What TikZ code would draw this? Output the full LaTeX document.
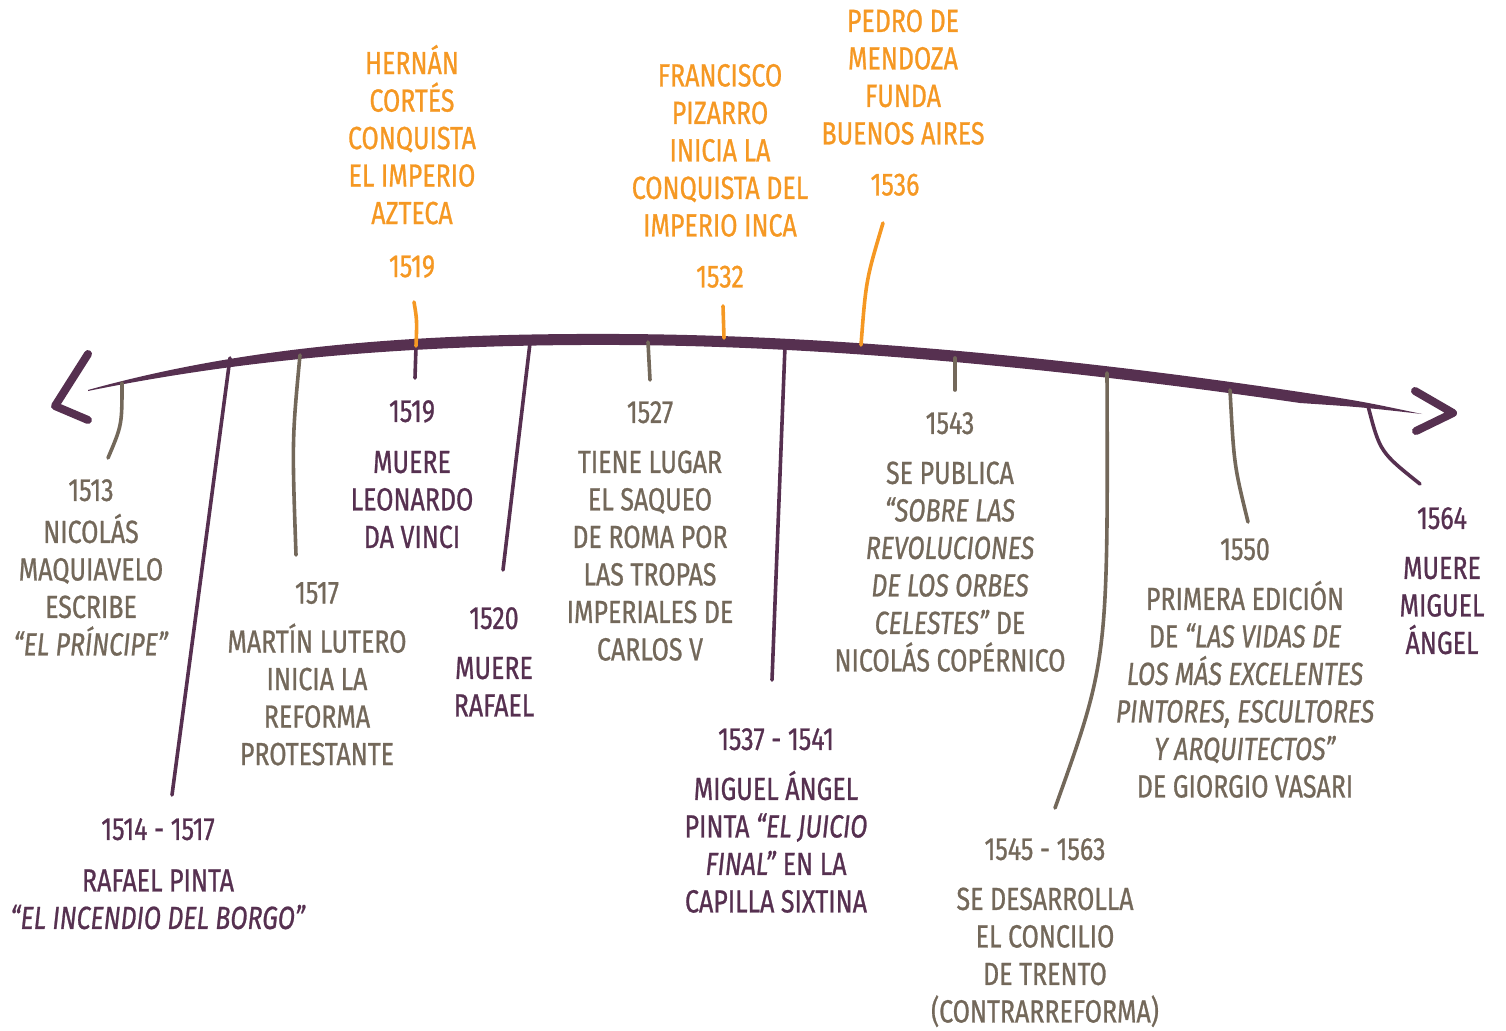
\documentclass[tikz,border=0pt]{standalone}
\usepackage{fontspec}
\setmainfont{Fira Sans}[FakeStretch=0.78, FakeBold=0.8]
\usepackage{tikz}
\usetikzlibrary{calc}

\definecolor{plum}{HTML}{563050}
\definecolor{taupe}{HTML}{73685A}
\definecolor{amber}{HTML}{F59823}

\begin{document}
\begin{tikzpicture}[x=1pt, y=-1pt,
  evt/.style={inner sep=0pt, align=center, font=\fontsize{32}{37.5}\selectfont},
  below evt/.style={evt, anchor=north},
  above evt/.style={evt, anchor=south},
  tick/.style={line width=3.6pt, line cap=round}]

\useasboundingbox (0,0) rectangle (1506,1030);

% main time axis (tapered stroke)
\fill[plum] (88,390) .. controls (250,345) and (420,333) .. (620,334)
  .. controls (850,335) and (1100,362) .. (1300,392)
  .. controls (1360,401) .. (1422,414)
  .. controls (1360,407) .. (1300,403)
  .. controls (1100,374) and (850,346) .. (620,345)
  .. controls (420,344) and (250,358) .. (88,391) -- cycle;
\draw[plum, line width=8pt, line cap=round, line join=round] (88,354) -- (55,406) -- (88,420);
\draw[plum, line width=8pt, line cap=round, line join=round] (1415,391) -- (1453,413) -- (1416,431);

% points on the axis
\coordinate (a1513) at (122,383);
\coordinate (a1514) at (230,358);
\coordinate (a1517) at (300,355);
\coordinate (a1519) at (416,346);
\coordinate (a1520) at (530,343);
\coordinate (a1527) at (648,342);
\coordinate (a1532) at (724,338);
\coordinate (a1536) at (861,345);
\coordinate (a1537) at (785,346);
\coordinate (a1543) at (955,358);
\coordinate (a1545) at (1107,373);
\coordinate (a1550) at (1230,390);
\coordinate (a1564) at (1368,406);

% free ends of the ticks
\coordinate (e1513) at (108,458);
\coordinate (e1514) at (172,795);
\coordinate (e1517) at (296,555);
\coordinate (e1519) at (415,378);
\coordinate (u1519) at (414,302);
\coordinate (e1520) at (503,570);
\coordinate (e1527) at (650,380);
\coordinate (u1532) at (723,306);
\coordinate (u1536) at (883,223);
\coordinate (e1537) at (772,680);
\coordinate (e1543) at (955,390);
\coordinate (e1545) at (1055,808);
\coordinate (e1550) at (1248,522);
\coordinate (e1564) at (1420,484);

\draw[tick, taupe] (a1513) .. controls (122,425) .. (e1513);
\draw[tick, plum] (a1514) -- (e1514);
\draw[tick, taupe] (a1517) .. controls (292,440) .. (e1517);
\draw[tick, plum] (a1519) -- (e1519);
\draw[tick, amber] (a1519) .. controls (417,320) .. (u1519);
\draw[tick, plum] (a1520) -- (e1520);
\draw[tick, taupe] (a1527) -- (e1527);
\draw[tick, amber] (a1532) -- (u1532);
\draw[tick, amber] (a1536) .. controls (866,280) .. (u1536);
\draw[tick, plum] (a1537) -- (e1537);
\draw[tick, taupe] (a1543) -- (e1543);
\draw[tick, taupe] (a1545) .. controls (1108,660) .. (e1545);
\draw[tick, taupe] (a1550) .. controls (1234,465) .. (e1550);
\draw[tick, plum] (a1564) .. controls (1380,452) .. (e1564);

% events below the axis
\node[below evt, taupe] (t1513) at (91,479) {1513\\[4.5pt] NICOLÁS\\ MAQUIAVELO\\ ESCRIBE\\ \textit{“EL PRÍNCIPE”}};
\node[below evt, plum] (t1514) at (158,818) {1514 - 1517\\[14pt] RAFAEL PINTA\\ \textit{“EL INCENDIO DEL BORGO”}};
\node[below evt, taupe] (t1517) at (317,582) {1517\\[11.5pt] MARTÍN LUTERO\\ INICIA LA\\ REFORMA\\ PROTESTANTE};
\node[below evt, plum] (t1519) at (412,400) {1519\\[13.5pt] MUERE\\ LEONARDO\\ DA VINCI};
\node[below evt, plum] (t1520) at (494,607) {1520\\[12.5pt] MUERE\\ RAFAEL};
\node[below evt, taupe] (t1527) at (650,401) {1527\\[12.5pt] TIENE LUGAR\\ EL SAQUEO\\ DE ROMA POR\\ LAS TROPAS\\ IMPERIALES DE\\ CARLOS V};
\node[below evt, plum] (t1537) at (776,728) {1537 - 1541\\[12.5pt] MIGUEL ÁNGEL\\ PINTA \textit{“EL JUICIO}\\ \textit{FINAL”} EN LA\\ CAPILLA SIXTINA};
\node[below evt, taupe] (t1543) at (950,412) {1543\\[12.5pt] SE PUBLICA\\ \textit{“SOBRE LAS}\\ \textit{REVOLUCIONES}\\ \textit{DE LOS ORBES}\\ \textit{CELESTES”} DE\\ NICOLÁS COPÉRNICO};
\node[below evt, taupe] (t1545) at (1045,838) {1545 - 1563\\[12.5pt] SE DESARROLLA\\ EL CONCILIO\\ DE TRENTO\\ (CONTRARREFORMA)};
\node[below evt, taupe] (t1550) at (1245,538) {1550\\[12.5pt] PRIMERA EDICIÓN\\ DE \textit{“LAS VIDAS DE}\\ \textit{LOS MÁS EXCELENTES}\\ \textit{PINTORES, ESCULTORES}\\ \textit{Y ARQUITECTOS”}\\ DE GIORGIO VASARI};
\node[below evt, plum] (t1564) at (1442,507) {1564\\[12.5pt] MUERE\\ MIGUEL\\ ÁNGEL};

% events above the axis
\node[above evt, amber] (t1519c) at (412,278) {HERNÁN\\ CORTÉS\\ CONQUISTA\\ EL IMPERIO\\ AZTECA\\[15.5pt] 1519};
\node[above evt, amber] (t1532) at (720,288) {FRANCISCO\\ PIZARRO\\ INICIA LA\\ CONQUISTA DEL\\ IMPERIO INCA\\[13.5pt] 1532};
\node[above evt, amber] (t1536) at (903,196) {PEDRO DE\\ MENDOZA\\ FUNDA\\ BUENOS AIRES\\[13.5pt] \hspace*{-16pt}1536};

\end{tikzpicture}
\end{document}
